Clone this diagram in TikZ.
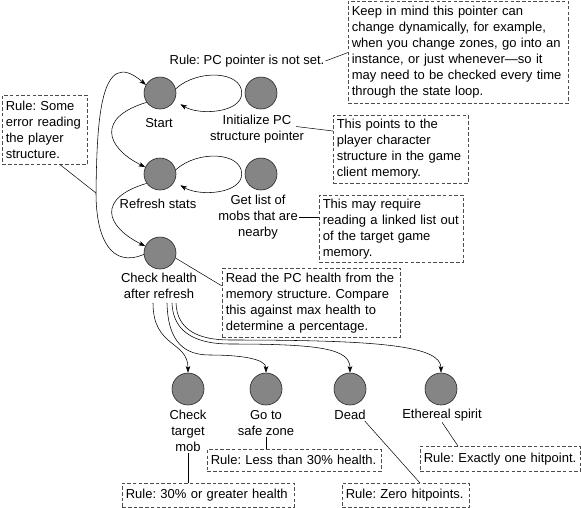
\documentclass[tikz,border=0pt]{standalone}
\usepackage{fontspec}
\setmainfont{Liberation Sans}
\usetikzlibrary{arrows.meta,calc}
\frenchspacing
\hyphenpenalty=10000
\exhyphenpenalty=10000
\begin{document}
\begin{tikzpicture}[x=1pt,y=-1pt,
  base/.style={font=\fontsize{13}{16}\selectfont},
  state/.style={circle,draw=black!85,fill=black!48,minimum size=32pt,inner sep=0pt,line width=0.6pt},
  lbl/.style={base,align=center,inner sep=1pt},
  note/.style={base,draw=black!70,dash pattern=on 3.5pt off 2.2pt,line width=0.6pt,anchor=north west,align=left,inner xsep=3.5pt,inner ysep=3pt},
  link/.style={line width=0.55pt},
  leader/.style={line width=0.5pt},
  arr/.style={link,-{Stealth[length=6.5pt,width=4.5pt,inset=1.5pt]}}]
\useasboundingbox (0,0) rectangle (581,507);
% states
\node[state] (start) at (160,93) {};
\node[state] (init) at (261,93) {};
\node[state] (refresh) at (160,174) {};
\node[state] (getlist) at (261,174) {};
\node[state] (check) at (160,253) {};
\node[state] (target) at (188,389) {};
\node[state] (safe) at (266,389) {};
\node[state] (dead) at (350,389) {};
\node[state] (eth) at (441,389) {};
% labels
\node[lbl] (startl) at (159,123) {Start};
\node[lbl] (initl) at (257,129.5) {Initialize PC\\structure pointer};
\node[lbl] (refreshl) at (158,204) {Refresh stats};
\node[lbl] (getl) at (258,217) {Get list of\\mobs that are\\nearby};
\node[lbl] (checkl) at (159,286) {Check health\\after refresh};
\node[lbl] (targetl) at (188,431) {Check\\target\\mob};
\node[lbl] (safel) at (266,423) {Go to\\safe zone};
\node[lbl] (deadl) at (350,415) {Dead};
\node[lbl] (ethl) at (442,415) {Ethereal spirit};
\node[lbl] (rulepc) at (247,61) {Rule: PC pointer is not set.};
% notes
\node[note,text width=213pt,minimum height=102pt] (K) at (348,0.5) {Keep in mind this pointer can\\change dynamically, for example,\\when you change zones, go into an\\instance, or just whenever—so it\\may need to be checked every time\\through the state loop.};
\node[note,text width=128pt,minimum height=68pt] (P) at (333,115) {This points to the\\player character\\structure in the game\\client memory.};
\node[note,text width=137pt,minimum height=67pt] (M) at (319,195) {This may require\\reading a linked list out\\of the target game\\memory.};
\node[note,text width=171pt,minimum height=69pt] (R) at (222,268) {Read the PC health from the\\memory structure. Compare\\this against max health to\\determine a percentage.};
\node[note,text width=78pt,minimum height=69pt] (E) at (2,95) {Rule: Some\\error reading\\the player\\structure.};
\node[note,text width=167pt,minimum height=22pt] (L30) at (207,449) {Rule: Less than 30\% health.};
\node[note,text width=165pt,minimum height=23.5pt] (G30) at (122,483) {Rule: 30\% or greater health};
\node[note,text width=120pt,minimum height=23.5pt] (Z) at (342,483) {Rule: Zero hitpoints.};
\node[note,text width=153pt,minimum height=25pt] (X) at (420,446) {Rule: Exactly one hitpoint.};
% loops
\draw[arr,shorten >=7pt] (start.15) .. controls +(22,-20) and +(0,-22) .. ([xshift=-3pt]init.west) .. controls +(0,20) and +(25,15) .. (start.-28);
\draw[arr,shorten >=7pt] (refresh.15) .. controls +(22,-20) and +(0,-22) .. ([xshift=-3pt]getlist.west) .. controls +(0,20) and +(25,15) .. (refresh.-28);
\draw[arr] (start.215) .. controls +(-50,15) and +(-40,-20) .. (refresh.155);
\draw[arr] (refresh.215) .. controls +(-50,15) and +(-40,-20) .. (check.155);
\coordinate (lp) at (96,193);
\draw[arr] (check.185) .. controls (112,268) and (96,240) .. (lp) .. controls (97,120) and (100,45) .. (start.150);
% outgoing from check health
\coordinate (o1) at ($(checkl.south)+(-6,3)$);
\coordinate (o2) at ($(checkl.south)+(8,3)$);
\coordinate (o3) at ($(checkl.south)+(13,3)$);
\coordinate (o4) at ($(checkl.south)+(17,3)$);
\draw[arr] (o1) .. controls +(0,45) and +(0,-32) .. (target.north);
\draw[arr] (o2) .. controls +(1,40) and +(-25,0) .. (210,355) .. controls +(30,0) and +(0,-14) .. (safe.north);
\draw[arr] (o3) .. controls +(1,32) and +(-30,0) .. (230,344) .. controls +(90,0) and +(0,-24) .. (dead.north);
\draw[arr] (o4) .. controls +(1,28) and +(-30,0) .. (230,340) .. controls +(150,0) and +(0,-27) .. (eth.north);
% leaders
\draw[leader] (rulepc.east) -- ($(K.north west)+(0,52)$);
\draw[leader] ($(initl.east)+(-9,-3)$) -- ($(P.north west)+(0,16)$);
\draw[leader] (getl.east) -- (getl.east -| M.west);
\draw[leader] (check.-18) -- ($(R.north west)+(0,18)$);
\draw[leader] ($(E.south west)+(58,0)$) -- (lp);
\draw[leader] (safel.south) -- (safel.south |- L30.north);
\draw[leader] (targetl.south) -- (targetl.south |- G30.north);
\draw[leader] ($(deadl.south east)+(-2,0)$) -- ($(Z.north west)+(78,0)$);
\draw[leader] (ethl.south) -- ($(X.north west)+(38,0)$);
\end{tikzpicture}
\end{document}
